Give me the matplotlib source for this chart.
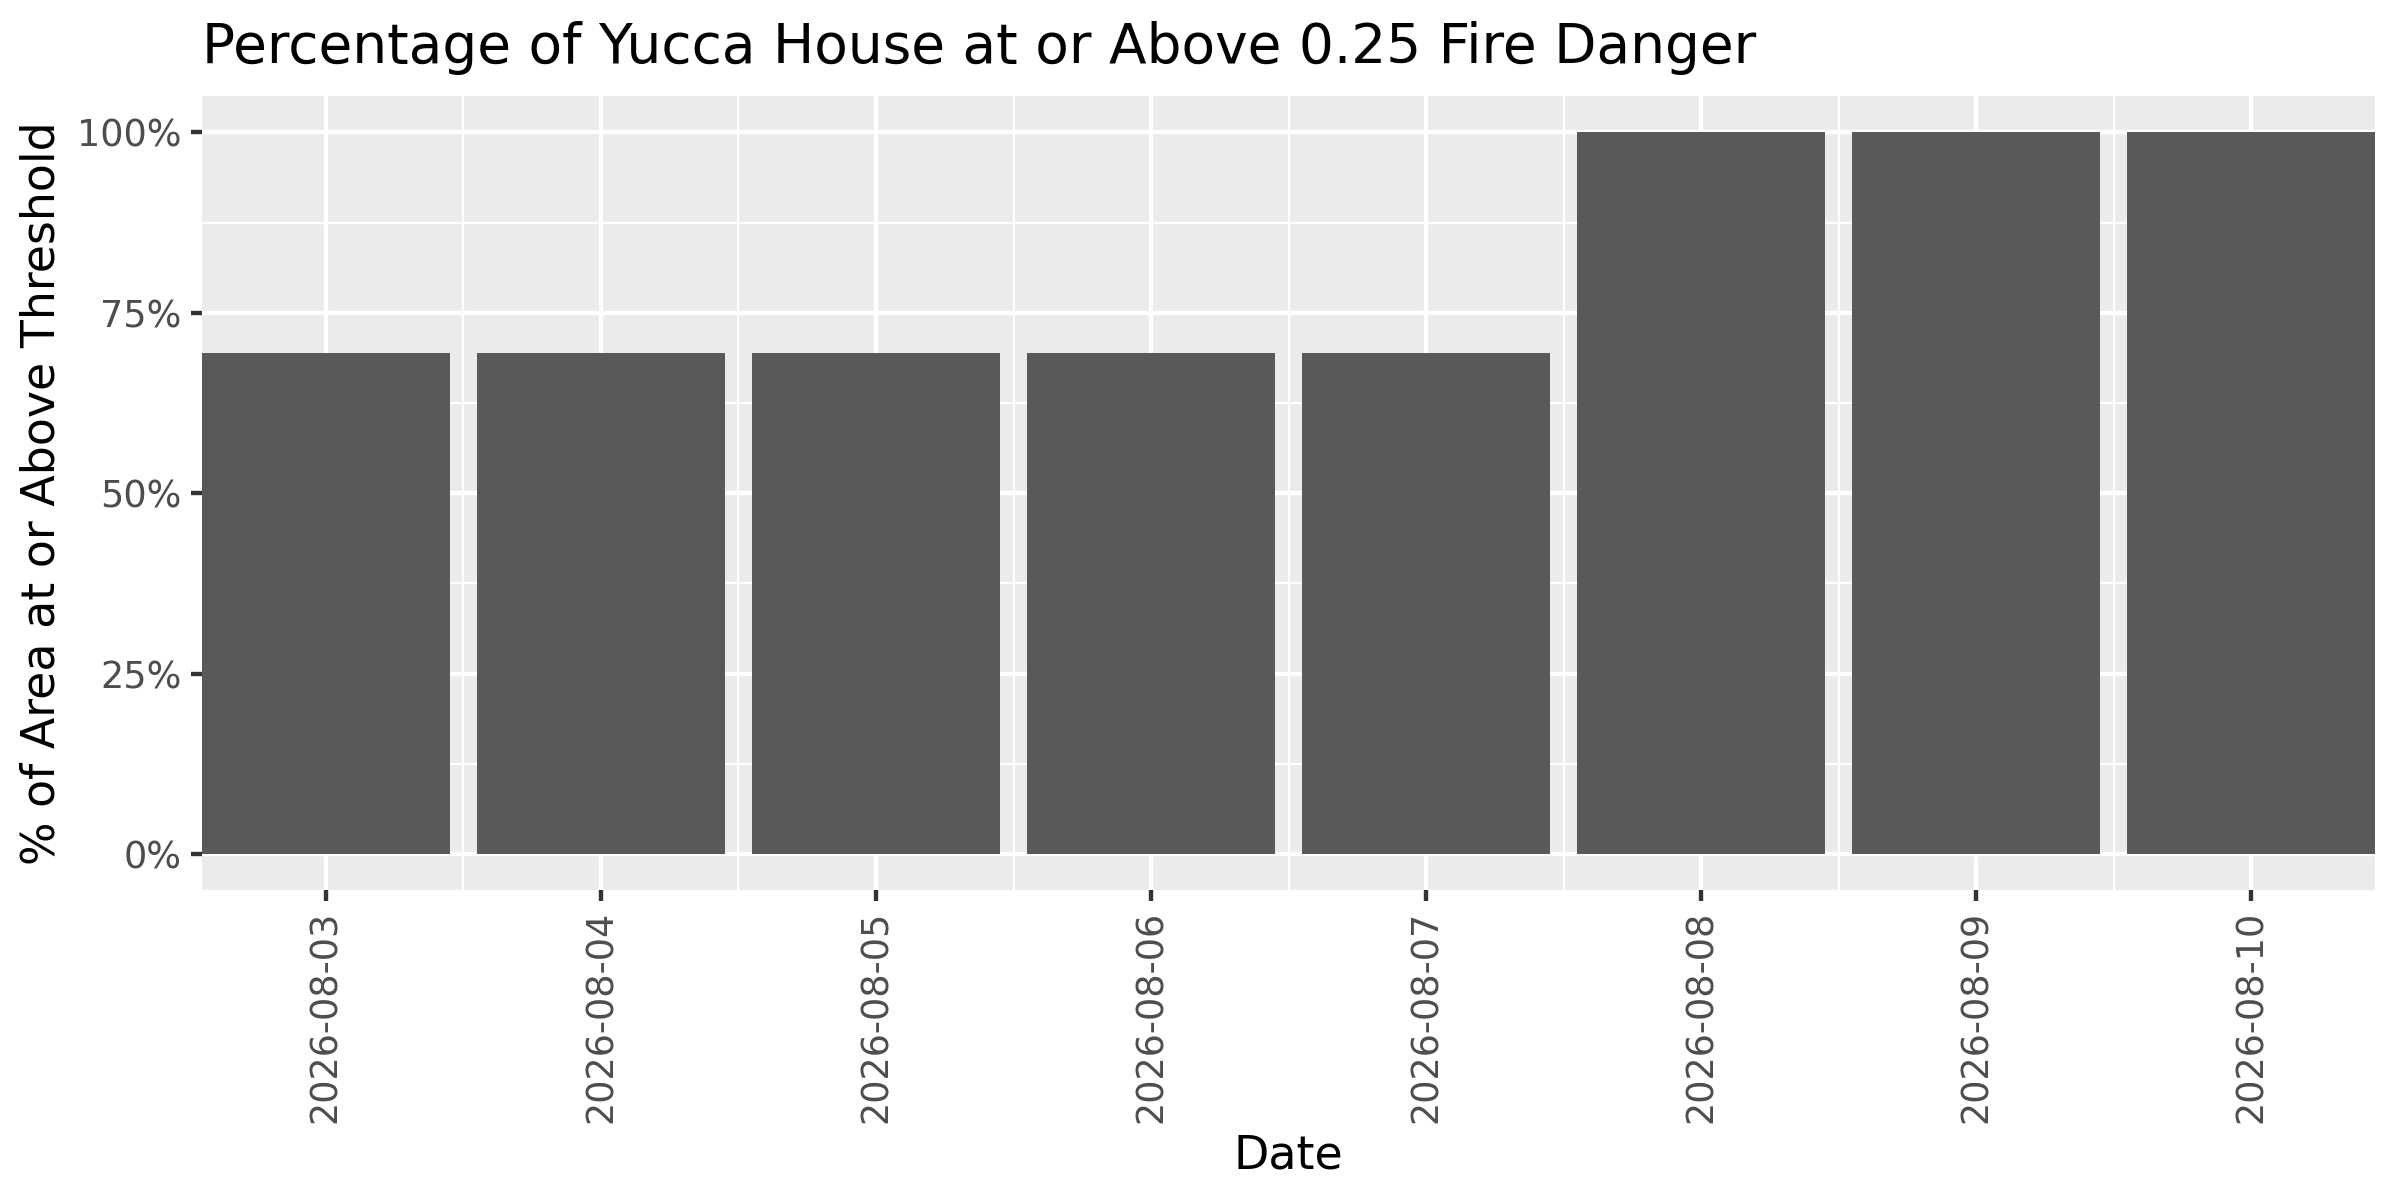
import numpy as np
import matplotlib
matplotlib.use("Agg")
import matplotlib.pyplot as plt

# data
dates = ["2026-08-03", "2026-08-04", "2026-08-05", "2026-08-06",
         "2026-08-07", "2026-08-08", "2026-08-09", "2026-08-10"]
pct_area = [69.4, 69.4, 69.4, 69.4, 69.4, 100, 100, 100]
y_ticks = [0, 25, 50, 75, 100]
y_labels = ["0%", "25%", "50%", "75%", "100%"]

title = "Percentage of Yucca House at or Above 0.25 Fire Danger"

plt.rcParams['font.family'] = ['DejaVu Sans']

fig = plt.figure(figsize=(16, 8), dpi=150)
ax = fig.add_axes([0.0842, 0.2583, 0.9896 - 0.0842, 0.9197 - 0.2583])

ax.set_facecolor("#EBEBEB")
ax.bar(dates, pct_area, width=0.9, color="#595959", zorder=3)

# limits: bars touch the panel sides, 5% padding on y
ax.set_xlim(-0.45, len(dates) - 0.55)
ax.set_ylim(-5, 105)

ax.set_yticks(y_ticks)
ax.set_yticklabels(y_labels)
ax.set_yticks([12.5, 37.5, 62.5, 87.5], minor=True)
ax.set_xticks(np.arange(len(dates)))
ax.set_xticklabels(dates, rotation=90)
ax.set_xticks(np.arange(len(dates) - 1) + 0.5, minor=True)

ax.grid(which="major", color="white", linewidth=2.1, zorder=1)
ax.grid(which="minor", color="white", linewidth=1.05, zorder=1)
ax.set_axisbelow(True)

for s in ax.spines.values():
    s.set_visible(False)

ax.tick_params(which="major", length=5.5, width=2.1, color="#333333",
               labelcolor="#4D4D4D", labelsize=17.6, pad=4.4)
ax.tick_params(which="minor", length=0)

ax.set_xlabel("Date", fontsize=22, color="black", labelpad=5)
ax.set_ylabel("% of Area at or Above Threshold", fontsize=22, color="black", labelpad=6)

fig.text(0.0842, 0.9475, title, fontsize=26.4, color="black",
         ha="left", va="baseline")

fig.savefig("out.png", dpi=150, facecolor="white")
